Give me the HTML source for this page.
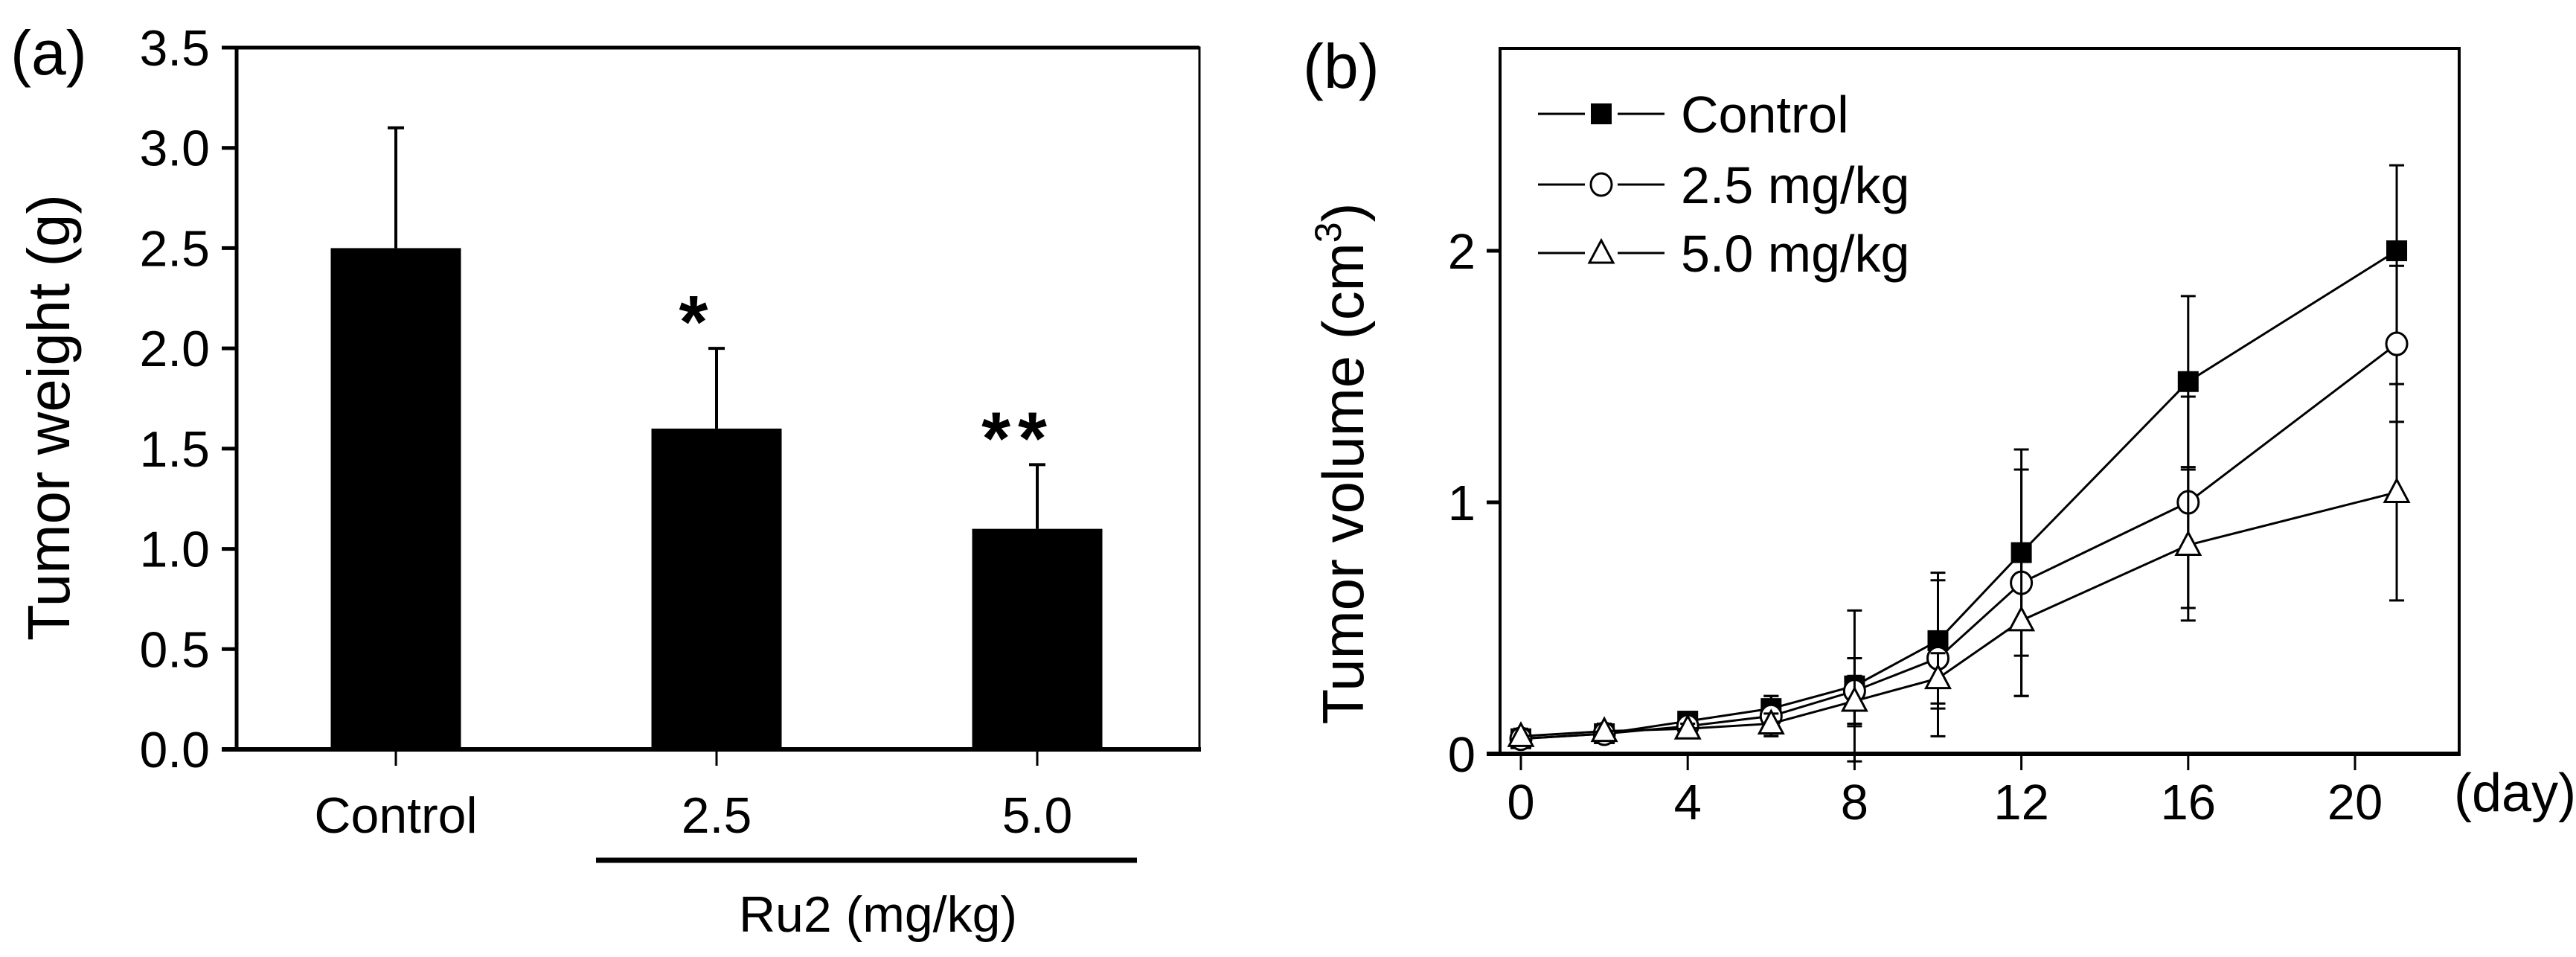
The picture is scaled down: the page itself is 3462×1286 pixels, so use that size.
<!DOCTYPE html>
<html><head><meta charset="utf-8"><style>
html,body{margin:0;padding:0;background:#fff;}
svg{display:block;font-family:"Liberation Sans",Arial,sans-serif;}
</style></head><body>
<svg id="fig" width="3462" height="1286" viewBox="0 0 3462 1286" xmlns="http://www.w3.org/2000/svg">
<g id="pa"></g>
<g id="pb"></g>
</svg>
<script>
// Panel (a) data
const catsA = ["Control", "2.5", "5.0"];
const weightA = [2.5, 1.6, 1.1];
const errA = [0.6, 0.4, 0.32];
const sigA = ["", "*", "**"];
const yTicksA = ["0.0","0.5","1.0","1.5","2.0","2.5","3.0","3.5"];
// Panel (b) data
const days = [0, 2, 4, 6, 8, 10, 12, 16, 21];
const volControl = [0.06, 0.08, 0.13, 0.18, 0.27, 0.45, 0.80, 1.48, 2.00];
const volLow = [0.06, 0.08, 0.11, 0.15, 0.25, 0.38, 0.68, 1.00, 1.63];
const volHigh = [0.07, 0.09, 0.10, 0.12, 0.21, 0.30, 0.53, 0.83, 1.04];
const errControl = [0.02, 0.02, 0.03, 0.05, 0.30, 0.27, 0.41, 0.34, 0.34];
const errLow = [0.02, 0.03, 0.03, 0.08, 0.13, 0.31, 0.45, 0.42, 0.31];
const errHigh = [0.03, 0.03, 0.02, 0.04, 0.10, 0.10, 0.30, 0.30, 0.43];
const xTicksB = [0, 4, 8, 12, 16, 20];
const yTicksB = [0, 1, 2];
const seriesNames = ["Control", "2.5 mg/kg", "5.0 mg/kg"];

const NS = "http://www.w3.org/2000/svg";
function mk(parent, tag, attrs, text){
  const e = document.createElementNS(NS, tag);
  for (const k in attrs) e.setAttribute(k, attrs[k]);
  if (text !== undefined) e.textContent = text;
  parent.appendChild(e);
  return e;
}

// ---------- Panel A ----------
const pa = document.getElementById('pa');
const aL = 318, aR = 1612, aT = 64, aB = 1007, aMax = 3.5;
const ayS = v => aB - v / aMax * (aB - aT);
const axS = i => 532 + i * 431;
const barW = 175;

let t = mk(pa, 'text', {x: 14, y: 100, 'font-size': 84}, "(a)");



weightA.forEach((v, i) => {
  const cx = axS(i);
  const top = ayS(v + errA[i]);
  let el = mk(pa, 'line', {x1: cx, x2: cx, y1: ayS(v), y2: top, stroke: '#000', 'stroke-width': 4});
  
  
  el = mk(pa, 'line', {x1: cx - 11, x2: cx + 11, y1: top, y2: top, stroke: '#000', 'stroke-width': 4});
  
  
  el = mk(pa, 'rect', {x: cx - barW / 2, y: ayS(v), width: barW, height: aB - ayS(v), fill: '#000'});
  
  
  if (sigA[i]) {
    el = mk(pa, 'text', {x: cx - 26, y: top - 57 + 56, 'font-size': 100, 'text-anchor': 'middle', 'font-weight': 'bold', 'letter-spacing': 10}, sigA[i]);
    
    
  }
  el = mk(pa, 'line', {x1: cx, x2: cx, y1: aB, y2: aB + 22, stroke: '#000', 'stroke-width': 3});
  
  
  el = mk(pa, 'text', {x: cx, y: 1119, 'font-size': 68, 'text-anchor': 'middle'}, catsA[i]);
  
  
});
let fr = mk(pa, 'path', {d: `M${aL} ${aT} H${aR} V${aB}`, fill: 'none', stroke: '#000', 'stroke-width': 3});


fr = mk(pa, 'line', {x1: aL, x2: aL, y1: aT - 2, y2: aB + 2, stroke: '#000', 'stroke-width': 5});


fr = mk(pa, 'line', {x1: 298, x2: aR + 2, y1: aB, y2: aB, stroke: '#000', 'stroke-width': 6});


fr = mk(pa, 'line', {x1: 298, x2: aR, y1: aT, y2: aT, stroke: '#000', 'stroke-width': 5});


yTicksA.forEach(s => {
  const y = ayS(parseFloat(s));
  let el = mk(pa, 'line', {x1: 298, x2: aL, y1: y, y2: y, stroke: '#000', 'stroke-width': 5});
  
  
  el = mk(pa, 'text', {x: 282, y: y + 24, 'font-size': 68, 'text-anchor': 'end'}, s);
  
  
});
t = mk(pa, 'text', {x: 0, y: 0, 'font-size': 80, 'text-anchor': 'middle', transform: 'translate(93,561) rotate(-90)', textLength: 600, lengthAdjust: 'spacingAndGlyphs'}, "Tumor weight (g)");


t = mk(pa, 'line', {x1: 801, x2: 1528, y1: 1156, y2: 1156, stroke: '#000', 'stroke-width': 7});


t = mk(pa, 'text', {x: 1180, y: 1252, 'font-size': 68, 'text-anchor': 'middle'}, "Ru2 (mg/kg)");



// ---------- Panel B ----------
const pb = document.getElementById('pb');
const bL = 2016, bR = 3305, bT = 65, bB = 1013;
const bxS = d => 2044 + d * 56.05;
const byS = v => bB - v * 338;

t = mk(pb, 'text', {x: 1751, y: 118, 'font-size': 84}, "(b)");



fr = mk(pb, 'path', {d: `M${bL} ${bB} V${bT} H${bR} V${bB}`, fill: 'none', stroke: '#000', 'stroke-width': 4});


fr = mk(pb, 'line', {x1: 1998, x2: bR + 2, y1: bB, y2: bB, stroke: '#000', 'stroke-width': 6});


xTicksB.forEach(d => {
  const x = bxS(d);
  let el = mk(pb, 'line', {x1: x, x2: x, y1: bB, y2: bB + 22, stroke: '#000', 'stroke-width': 3});
  
  
  el = mk(pb, 'text', {x: x, y: 1101, 'font-size': 67, 'text-anchor': 'middle'}, String(d));
  
  
});
t = mk(pb, 'text', {x: 3298, y: 1090, 'font-size': 72}, "(day)");


yTicksB.forEach(v => {
  const y = byS(v);
  let el = mk(pb, 'line', {x1: 1998, x2: bL, y1: y, y2: y, stroke: '#000', 'stroke-width': 5});
  
  
  el = mk(pb, 'text', {x: 1983, y: y + 24, 'font-size': 67, 'text-anchor': 'end'}, String(v));
  
  
});
t = mk(pb, 'text', {x: 0, y: 0, 'font-size': 78, 'text-anchor': 'middle', transform: 'translate(1832,623) rotate(-90)'});


t.appendChild(document.createTextNode("Tumor volume (cm"));
const sup = mk(t, 'tspan', {'font-size': 50, dy: -30}, "3");


const cl = mk(t, 'tspan', {dy: 30}, ")");



function marker(g, kind, x, y){
  let el;
  if (kind === 0) el = mk(g, 'rect', {x: x - 14, y: y - 14, width: 28, height: 28, fill: '#000'});
  else if (kind === 1) el = mk(g, 'ellipse', {cx: x, cy: y, rx: 14, ry: 15, fill: '#fff', stroke: '#000', 'stroke-width': 3});
  else el = mk(g, 'path', {d: `M${x} ${y - 17} L${x + 16} ${y + 13} L${x - 16} ${y + 13} Z`, fill: '#fff', stroke: '#000', 'stroke-width': 3});
  return el;
}

const allVals = [volControl, volLow, volHigh];
const allErr = [errControl, errLow, errHigh];
allVals.forEach((vals, s) => {
  const g = mk(pb, 'g', {});
  
  
  const pts = vals.map((v, i) => bxS(days[i]) + ',' + byS(v)).join(' ');
  let el = mk(g, 'polyline', {points: pts, fill: 'none', stroke: '#000', 'stroke-width': 3});
  
  
  vals.forEach((v, i) => {
    const x = bxS(days[i]), e = allErr[s][i];
    let eb = mk(g, 'path', {d: `M${x} ${byS(v - e)} V${byS(v + e)} M${x - 10} ${byS(v - e)} H${x + 10} M${x - 10} ${byS(v + e)} H${x + 10}`, stroke: '#000', 'stroke-width': 3, fill: 'none'});
    
    
  });
  vals.forEach((v, i) => {
    const m = marker(g, s, bxS(days[i]), byS(v));
    
    
  });
});

const legY = [153, 248, 340];
seriesNames.forEach((n, s) => {
  const g = mk(pb, 'g', {});
  
  
  let el = mk(g, 'line', {x1: 2067, x2: 2237, y1: legY[s], y2: legY[s], stroke: '#000', 'stroke-width': 3});
  
  
  el = mk(g, 'rect', {x: 2130, y: legY[s] - 22, width: 44, height: 44, fill: '#fff'});
  
  
  el = marker(g, s, 2152, legY[s]);
  
  
  el = mk(g, 'text', {x: 2259, y: legY[s] + 25, 'font-size': 70}, n);
  
  
});
</script>
</body></html>
